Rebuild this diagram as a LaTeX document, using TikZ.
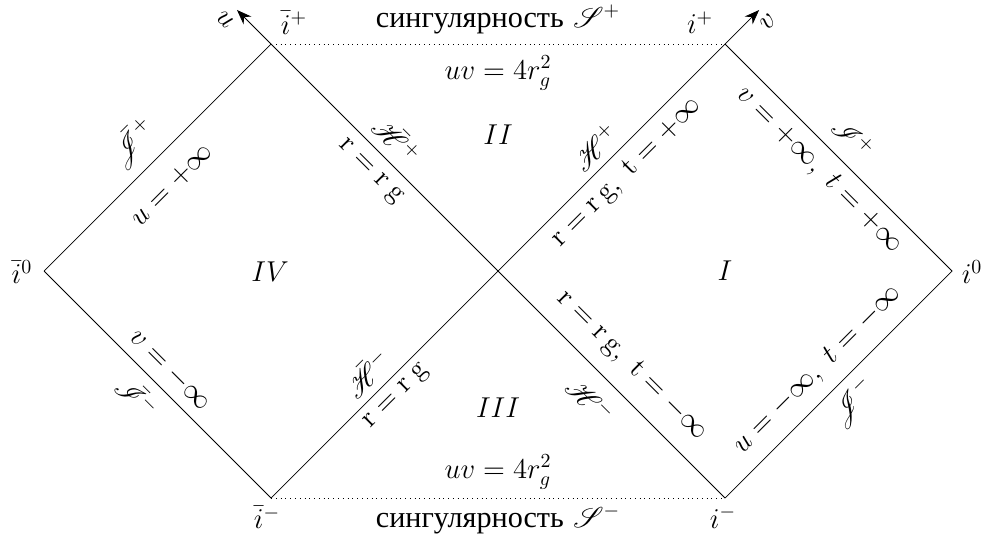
\documentclass[tikz,border=0pt]{standalone}
\usepackage{amsmath, amssymb}
\usepackage{mathrsfs}
\usepackage{fontspec}
\newfontfamily\cyrfont[Scale=1.05]{Liberation Serif}
\usepackage{tikz}
\usetikzlibrary{positioning, arrows.meta, calc}

\begin{document}
\begin{tikzpicture}[x=4cm, y=4cm, every node/.style={font=\Large},
    lab/.style={inner sep=1pt}, up/.style={lab, rotate=45}, down/.style={lab, rotate=-45}]
        \useasboundingbox (-2.194,-1.194) rectangle (2.145,1.194);
        % sommets
        \coordinate (Lz) at (-2,0);
        \coordinate (Lp) at (-1,1);
        \coordinate (Lm) at (-1,-1);
        \coordinate (C) at (0,0);
        \coordinate (Rp) at (1,1);
        \coordinate (Rm) at (1,-1);
        \coordinate (Rz) at (2,0);
        \coordinate (utip) at (-1.15,1.15);
        \coordinate (vtip) at (1.15,1.15);
        % bords
        \draw (Lz) -- (Lp);
        \draw (Lz) -- (Lm);
        \draw (Rp) -- (Rz) -- (Rm);
        \draw[-{Stealth[length=2.6mm]}] (Rm) -- (C) -- (utip);
        \draw[-{Stealth[length=2.6mm]}] (Lm) -- (C) -- (vtip);
        % singularites
        \draw[dotted] (Lp) -- (Rp);
        \draw[dotted] (Lm) -- (Rm);
        % axes
        \node[lab, rotate=-45] (ulab) at (-1.203,1.106) {$u$};
        \node[lab, rotate=45] (vlab) at (1.189,1.097) {$v$};
        % points
        \node[lab] (ibp) at (-0.899,1.093) {$\bar i^+$};
        \node[lab] (ip) at (0.890,1.093) {$i^+$};
        \node[lab] (ib0) at (-2.097,-0.004) {$\bar i^0$};
        \node[lab] (i0) at (2.088,-0.004) {$i^0$};
        \node[lab] (ibm) at (-1.018,-1.084) {$\bar i^-$};
        \node[lab] (im) at (0.991,-1.084) {$i^-$};
        % singularites
        \node[lab] (sp) at (0,1.108) {{\cyrfont сингулярность} $\mathscr S^+$};
        \node[lab] (uvp) at (0,0.872) {$uv=4r_g^2$};
        \node[lab] (uvm) at (0,-0.885) {$uv=4r_g^2$};
        \node[lab] (sm) at (0,-1.094) {{\cyrfont сингулярность} $\mathscr S^-$};
        % regions
        \node (rI) at (1.0,0) {$I$};
        \node (rII) at (0,0.599) {$II$};
        \node (rIII) at (0,-0.604) {$III$};
        \node (rIV) at (-1.004,-0.004) {$IV$};
        % region IV
        \node[up] (Jbp) at (-1.608,0.564) {$\bar{\mathscr J}^+$};
        \node[up] (ubp) at (-1.436,0.379) {$u=+\infty$};
        \node[down] (vbm) at (-1.445,-0.436) {$v=-\infty$};
        \node[down] (Ibm) at (-1.590,-0.555) {$\bar{\mathscr I}^-$};
        % horizons
        \node[down] (Hbp) at (-0.445,0.577) {$\bar{\mathscr H}^+$};
        \node[down] (rbp) at (-0.564,0.436) {$\mathrm{r}=\mathrm{r\;g}$};
        \node[up] (Hbm) at (-0.577,-0.449) {$\bar{\mathscr H}^-$};
        \node[up] (rbm) at (-0.445,-0.555) {$\mathrm{r}=\mathrm{r\;g}$};
        \node[up] (Hp) at (0.427,0.546) {$\mathscr H^+$};
        \node[up] (rp) at (0.568,0.432) {$\mathrm{r}=\mathrm{r\,g},\ \mathrm{t}=+\infty$};
        \node[down] (Hm) at (0.405,-0.568) {$\mathscr H^-$};
        \node[down] (rm) at (0.590,-0.419) {$\mathrm{r}=\mathrm{r\,g},\ \mathrm{t}=-\infty$};
        % region I
        \node[down] (vp) at (1.414,0.445) {$v=+\infty,\ t=+\infty$};
        \node[down] (Ip) at (1.564,0.586) {$\mathscr I^+$};
        \node[up] (um) at (1.410,-0.436) {$u=-\infty,\ t=-\infty$};
        \node[up] (Jm) at (1.564,-0.581) {$\mathscr J^-$};
      \end{tikzpicture}
\end{document}
